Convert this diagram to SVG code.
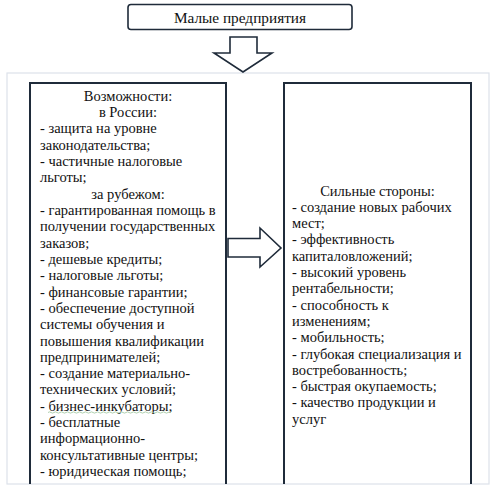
<svg xmlns="http://www.w3.org/2000/svg" width="495" height="490" viewBox="0 0 495 490">
<style>
.t{font-family:'Liberation Serif','Tinos','Times New Roman','DejaVu Serif',serif;font-size:14.5px;fill:#111}
.c{text-anchor:middle}
.box{fill:none;stroke:#1f2b3a;stroke-width:2}
.arr{fill:#fff;stroke:#1f2b3a;stroke-width:1.6;stroke-linejoin:miter}
</style>
<rect x="0" y="0" width="495" height="490" fill="#fff"/>
<rect id="panel" x="7" y="73" width="482" height="411" fill="#fff" stroke="#dde2ea" stroke-width="1.2"/>
<g id="top">
<rect x="128" y="4.5" width="224" height="25" rx="3" ry="3" fill="#fff" stroke="#1f2b3a" stroke-width="1.6"/>
<text class="t c" x="240" y="22.5" style="font-size:15.3px">Малые предприятия</text>
</g>
<g id="connectors">
<path class="arr" d="M230,37 H257 V53 H272 L243,72 L214,53 H230 Z"/>
<path class="arr" d="M228,238.5 H260 V228 L281,248 L260,267 V257 H228 Z"/>
</g>
<g id="left">
<path class="box" d="M30,484 V83 H226 V484"/>
<text class="t c" x="128" y="100.5">Возможности:</text>
<text class="t c" x="128" y="116.8">в России:</text>
<text class="t" x="40" y="133.2">- защита на уровне</text>
<text class="t" x="40" y="149.5">законодательства;</text>
<text class="t" x="40" y="165.8">- частичные налоговые</text>
<text class="t" x="40" y="182.2">льготы;</text>
<text class="t c" x="128" y="198.5">за рубежом:</text>
<text class="t" x="40" y="214.8">- гарантированная помощь в</text>
<text class="t" x="40" y="231.1">получении государственных</text>
<text class="t" x="40" y="247.5">заказов;</text>
<text class="t" x="40" y="263.8">- дешевые кредиты;</text>
<text class="t" x="40" y="280.1">- налоговые льготы;</text>
<text class="t" x="40" y="296.5">- финансовые гарантии;</text>
<text class="t" x="40" y="312.8">- обеспечение доступной</text>
<text class="t" x="40" y="329.1">системы обучения и</text>
<text class="t" x="40" y="345.5">повышения квалификации</text>
<text class="t" x="40" y="361.8">предпринимателей;</text>
<text class="t" x="40" y="378.1">- создание материально-</text>
<text class="t" x="40" y="394.4">технических условий;</text>
<text class="t" x="40" y="410.8">- бизнес-инкубаторы;</text>
<path d="M48,412.5 q1.5,-1.2 3,0 t3,0 t3,0 t3,0 t3,0 t3,0 t3,0 t3,0 t3,0 t3,0 t3,0 t3,0 t3,0 t3,0 t3,0 t3,0 t3,0 t3,0 t3,0 t3,0 t3,0 t3,0 t3,0 t3,0 t3,0 t3,0 t3,0 t3,0 t3,0 t3,0 t3,0 t3,0 t3,0 t3,0 t3,0 t3,0 t3,0 t3,0 t3,0 t3,0 t3,0" fill="none" stroke="#9cc49c" stroke-width="0.8"/>
<text class="t" x="40" y="427.1">- бесплатные</text>
<text class="t" x="40" y="443.4">информационно-</text>
<text class="t" x="40" y="459.8">консультативные центры;</text>
<text class="t" x="40" y="476.1">- юридическая помощь;</text>
</g>
<g id="right">
<path class="box" d="M284,484 V83 H471 V484"/>
<text class="t c" x="377.5" y="195.5">Сильные стороны:</text>
<text class="t" x="292" y="211.8">- создание новых рабочих</text>
<text class="t" x="292" y="228.1">мест;</text>
<text class="t" x="292" y="244.4">- эффективность</text>
<text class="t" x="292" y="260.7">капиталовложений;</text>
<text class="t" x="292" y="277">- высокий уровень</text>
<text class="t" x="292" y="293.3">рентабельности;</text>
<text class="t" x="292" y="309.6">- способность к</text>
<text class="t" x="292" y="325.9">изменениям;</text>
<text class="t" x="292" y="342.2">- мобильность;</text>
<text class="t" x="292" y="358.5">- глубокая специализация и</text>
<text class="t" x="292" y="374.8">востребованность;</text>
<text class="t" x="292" y="391.1">- быстрая окупаемость;</text>
<text class="t" x="292" y="407.4">- качество продукции и</text>
<text class="t" x="292" y="423.7">услуг</text>
</g>
</svg>
